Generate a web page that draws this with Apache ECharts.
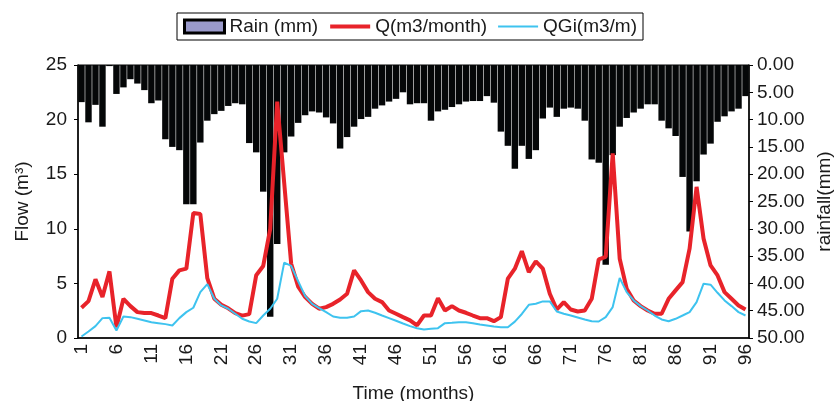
<!DOCTYPE html>
<html>
<head>
<meta charset="utf-8">
<script src="https://cdn.jsdelivr.net/npm/echarts@6/dist/echarts.min.js"></script>
<style>html,body{margin:0;padding:0;background:#fff}#c{width:837px;height:401px}</style>
</head>
<body>
<div id="c"></div>
<script>
var months = [];
for (var m = 1; m <= 96; m++) months.push(String(m));

var rain = [6.8, 10.5, 7.3, 11.3, 0.2, 5.3, 4.1, 2.6, 3.4, 4.6,
            7.0, 6.5, 13.6, 15.0, 15.6, 25.5, 25.5, 14.2, 10.2, 9.0,
            8.4, 7.5, 7.0, 7.2, 14.3, 16.0, 23.2, 46.1, 32.8, 16.0,
            13.1, 10.6, 9.2, 8.5, 8.7, 9.6, 10.7, 15.3, 13.2, 11.3,
            9.9, 9.5, 8.0, 7.4, 6.7, 6.2, 5.0, 7.2, 7.0, 7.0,
            10.2, 8.5, 8.2, 7.7, 7.2, 6.7, 6.6, 6.6, 5.7, 6.9,
            12.2, 14.8, 19.0, 14.8, 17.2, 15.6, 9.8, 7.8, 9.5, 8.0,
            7.8, 8.0, 10.2, 17.3, 17.9, 36.6, 16.5, 11.3, 9.7, 8.7,
            8.0, 7.2, 7.2, 10.2, 11.6, 13.0, 20.5, 30.5, 21.3, 16.4,
            14.4, 10.4, 9.4, 8.5, 8.0, 5.7];

var q = [2.77, 3.38, 5.37, 3.75, 6.10, 0.99, 3.59, 2.92, 2.37, 2.28,
         2.28, 2.06, 1.82, 5.43, 6.19, 6.35, 11.45, 11.35, 5.48, 3.60,
         3.05, 2.72, 2.28, 2.05, 2.19, 5.75, 6.60, 10.0, 21.65, 14.2,
         6.8, 4.7, 3.75, 3.13, 2.68, 2.83, 3.13, 3.53, 4.05, 6.19,
         5.27, 4.2, 3.59, 3.29, 2.52, 2.22, 1.91, 1.61, 1.15, 2.06,
         2.06, 3.65, 2.52, 2.92, 2.52, 2.31, 2.06, 1.82, 1.82, 1.54,
         1.91, 5.43, 6.35, 7.95, 6.04, 7.02, 6.35, 4.05, 2.61, 3.29,
         2.61, 2.43, 2.52, 3.59, 7.2, 7.42, 16.9, 7.26, 4.51, 3.44,
         2.92, 2.52, 2.22, 2.22, 3.59, 4.36, 5.12, 8.18, 13.84, 9.1,
         6.65, 5.73, 4.2, 3.59, 2.98, 2.61];

var qgi = [0.14, 0.60, 1.09, 1.82, 1.85, 0.69, 1.97, 1.91, 1.76, 1.61,
           1.45, 1.36, 1.27, 1.15, 1.82, 2.37, 2.77, 4.2, 4.94, 3.59,
           2.98, 2.68, 2.22, 1.76, 1.51, 1.36, 2.06, 2.68, 3.59, 6.9,
           6.6, 5.2, 3.84, 3.13, 2.74, 2.37, 1.97, 1.85, 1.85, 1.97,
           2.46, 2.52, 2.31, 2.06, 1.82, 1.58, 1.33, 1.09, 0.90, 0.78,
           0.84, 0.90, 1.36, 1.39, 1.45, 1.45, 1.36, 1.24, 1.15, 1.06,
           0.99, 0.99, 1.5, 2.2, 3.04, 3.13, 3.35, 3.35, 2.43, 2.22,
           2.06, 1.88, 1.70, 1.54, 1.51, 1.91, 2.83, 5.49, 4.2, 3.44,
           2.92, 2.52, 2.06, 1.70, 1.54, 1.76, 2.06, 2.37, 3.29, 4.97,
           4.88, 4.14, 3.44, 2.92, 2.37, 2.06];

var flowTicks = [0, 5, 10, 15, 20, 25];
var rainTicks = [0, 5, 10, 15, 20, 25, 30, 35, 40, 45, 50];

var FONT = 'Liberation Sans';
var TXT = '#1a1a1a';
var RED = '#e8232a', BLUE = '#3ec3ef';
var chart = echarts.init(document.getElementById('c'));
chart.setOption({
  animation: false,
  textStyle: { fontFamily: FONT, color: TXT },
  legend: {
    left: 177, top: 13,
    padding: [4, 6, 4, 6],
    borderColor: '#000', borderWidth: 1,
    itemWidth: 40, itemHeight: 13, itemGap: 10,
    textStyle: { fontFamily: FONT, fontSize: 19, color: TXT },
    data: [
      { name: 'Rain (mm)', icon: 'rect', itemStyle: { color: '#9a9acb', borderColor: '#000', borderWidth: 3 } },
      { name: 'Q(m3/month)', itemStyle: { opacity: 0 }, lineStyle: { color: RED, width: 4 } },
      { name: 'QGi(m3/m)', itemStyle: { opacity: 0 }, lineStyle: { color: BLUE, width: 2 } }
    ]
  },
  grid: { left: 78, right: 88, top: 65, bottom: 63, show: true, borderColor: '#000', borderWidth: 1,
          containLabel: false, outerBoundsMode: 'none' },
  xAxis: {
    type: 'category', data: months, boundaryGap: true,
    name: 'Time (months)', nameLocation: 'middle', nameGap: 46,
    nameTextStyle: { fontFamily: FONT, fontSize: 19, color: TXT },
    axisLine: { lineStyle: { color: '#000', width: 1.5 } },
    axisTick: { interval: 0, length: 4, lineStyle: { color: '#000' } },
    axisLabel: { interval: 4, rotate: 90, fontSize: 19, color: TXT, fontFamily: FONT, margin: 6 }
  },
  yAxis: [
    {
      type: 'value', min: 0, max: 25, interval: 5,
      name: 'Flow (m³)', nameLocation: 'middle', nameGap: 46, nameRotate: 90,
      nameTextStyle: { fontFamily: FONT, fontSize: 19, color: TXT },
      axisLine: { show: true, lineStyle: { color: '#000', width: 1.5 } },
      axisTick: { show: true, length: 4, lineStyle: { color: '#000' } },
      axisLabel: { fontSize: 19, color: TXT, fontFamily: FONT, margin: 11,
        formatter: function (v) { return flowTicks.indexOf(v) >= 0 ? String(v) : ''; } },
      splitLine: { show: false }
    },
    {
      type: 'value', min: 0, max: 50, interval: 5, inverse: true, position: 'right',
      name: 'rainfall(mm)', nameLocation: 'middle', nameGap: 64, nameRotate: 90,
      nameTextStyle: { fontFamily: FONT, fontSize: 19, color: TXT },
      axisLine: { show: true, lineStyle: { color: '#000', width: 1.5 } },
      axisTick: { show: true, length: 4, lineStyle: { color: '#000' } },
      axisLabel: { fontSize: 19, color: TXT, fontFamily: FONT, margin: 8,
        formatter: function (v) { return rainTicks.indexOf(v) >= 0 ? v.toFixed(2) : ''; } },
      splitLine: { show: false }
    }
  ],
  series: [
    { name: 'Rain (mm)', type: 'bar', yAxisIndex: 1, data: rain, barCategoryGap: '8%',
      itemStyle: { color: '#050708' }, z: 1 },
    { name: 'Q(m3/month)', type: 'line', yAxisIndex: 0, data: q, symbol: 'none',
      lineStyle: { color: RED, width: 4 }, itemStyle: { color: RED }, z: 3 },
    { name: 'QGi(m3/m)', type: 'line', yAxisIndex: 0, data: qgi, symbol: 'none',
      lineStyle: { color: BLUE, width: 2 }, itemStyle: { color: BLUE }, z: 4 }
  ]
});
</script>
</body>
</html>
